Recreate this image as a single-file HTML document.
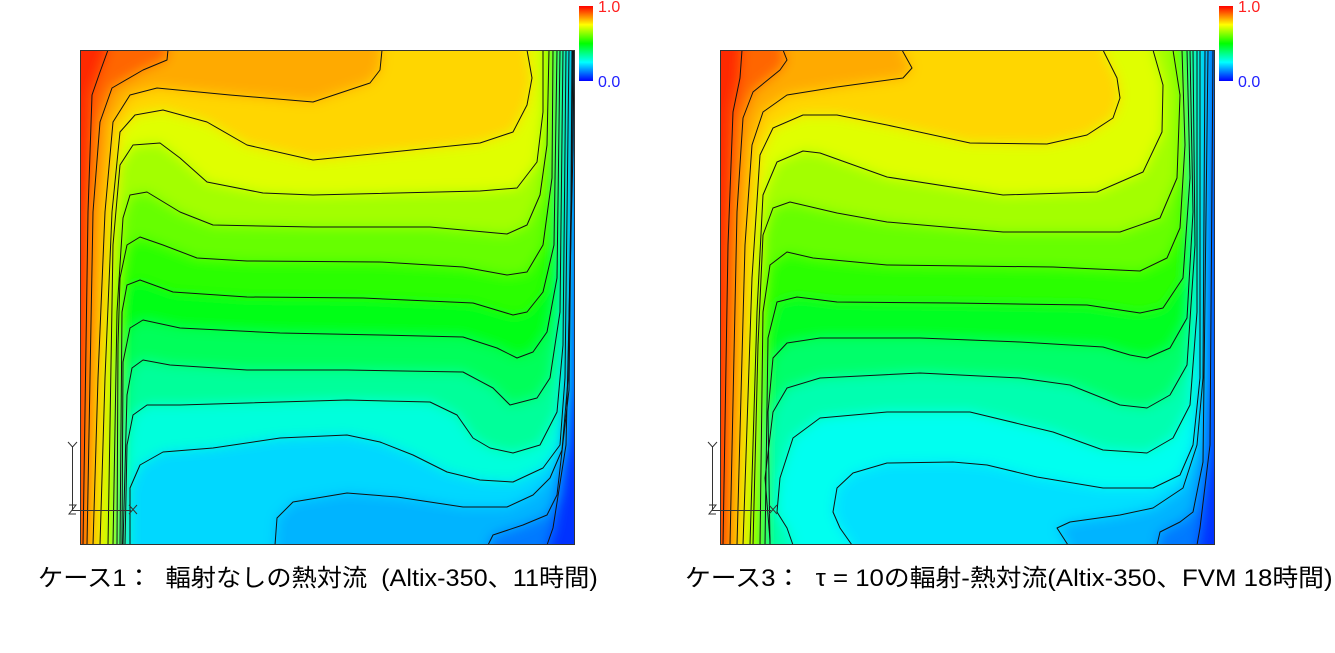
<!DOCTYPE html>
<html><head><meta charset="utf-8">
<style>
html,body{margin:0;padding:0;background:#fff;}
body{width:1335px;height:653px;position:relative;overflow:hidden;}
.plot{position:absolute;top:50px;}
.cap{position:absolute;top:564px;font-family:"Liberation Sans","Noto Sans CJK JP",sans-serif;font-size:24px;color:#000;white-space:nowrap;line-height:30px;transform-origin:0 0;}
.lab{position:absolute;font-family:"Liberation Sans",sans-serif;font-size:16px;line-height:16px;}
.cb{position:absolute;top:6px;width:14px;height:75px;background:linear-gradient(to bottom,#ff0000 0%,#ffff00 25%,#00ff00 50%,#00ffff 75%,#0000ff 100%);}
</style></head><body>

<svg class="plot" style="left:80px" width="496" height="496" viewBox="0 0 496 496">
<defs>
<clipPath id="ca"><rect x="0" y="0" width="495" height="495"/></clipPath>
<filter id="fa" x="-20%" y="-20%" width="140%" height="140%"><feGaussianBlur stdDeviation="6"/></filter>
<polygon id="a1" points="28,-30 28,0 20,22 12,45 8,162 3,495 3,525 -30,525 -30,-30"/>
<polygon id="aA" points="88,-30 88,0 87,10 63,20 32,38 20,72 13,162 7,495 7,525 -30,525 -30,-30"/>
<polygon id="aB" points="302,-30 302,0 300,20 290,33 233,52 150,45 77,38 50,45 33,72 25,162 18,328 13,495 13,525 -30,525 -30,-30"/>
<polygon id="aC" points="447,-30 447,0 452,28 447,55 433,82 400,93 233,110 167,95 127,72 83,60 55,65 40,82 32,162 25,328 20,495 20,525 -30,525 -30,-30"/>
<polygon id="aD" points="463,-30 463,0 463,62 457,112 437,138 400,141 233,145 183,143 127,132 100,108 80,93 53,95 40,115 33,195 28,495 28,525 -30,525 -30,-30"/>
<polygon id="aE" points="469,-30 469,0 467,95 460,145 447,175 427,184 350,177 233,177 133,175 100,162 67,142 50,145 43,168 37,262 33,495 33,525 -30,525 -30,-30"/>
<polygon id="aF" points="473,-30 473,0 472,128 463,195 447,222 427,225 383,217 300,212 167,211 117,208 83,195 60,187 47,195 40,228 38,295 37,495 37,525 -30,525 -30,-30"/>
<polygon id="aG" points="477,-30 477,0 474,195 463,242 447,262 433,265 393,253 283,248 167,247 93,242 60,230 47,235 42,262 40,495 40,525 -30,525 -30,-30"/>
<polygon id="aH" points="480,-30 480,0 477,228 467,282 453,302 437,308 417,298 383,287 300,285 200,283 100,278 63,270 50,278 43,312 42,495 42,525 -30,525 -30,-30"/>
<polygon id="aI" points="483,-30 483,0 480,262 470,328 457,348 430,355 413,338 383,322 267,320 167,320 90,315 63,310 52,318 47,345 43,495 43,525 -30,525 -30,-30"/>
<polygon id="aJ" points="486,-30 486,0 483,295 477,362 460,395 433,403 410,398 393,388 377,365 350,352 267,350 167,353 100,355 67,355 53,365 47,395 45,495 45,525 -30,525 -30,-30"/>
<polygon id="aK" points="489,-30 489,0 485,328 480,395 463,418 433,432 400,430 367,422 333,405 300,392 267,385 200,388 133,398 83,402 60,415 50,438 50,495 50,525 -30,525 -30,-30"/>
<polygon id="aL" points="195,525 195,495 197,468 213,452 267,443 317,447 383,457 427,457 453,445 470,428 482,400 488,330 491,150 492,0 492,-30 -30,-30 -30,525"/>
<polygon id="aM" points="408,525 408,495 413,485 443,475 467,465 477,445 489,340 493,0 493,-30 -30,-30 -30,525"/>
<polygon id="aN" points="467,525 467,495 473,478 486,395 493,100 494,0 494,-30 -30,-30 -30,525"/>
</defs>
<g clip-path="url(#ca)">
<g filter="url(#fa)">
<rect x="-40" y="-40" width="580" height="580" fill="#0033ff"/>
<use href="#aN" fill="#007aff"/>
<use href="#aM" fill="#00b4ff"/>
<use href="#aL" fill="#00d8ff"/>
<use href="#aK" fill="#00ffdc"/>
<use href="#aJ" fill="#00ff9a"/>
<use href="#aI" fill="#00ff5a"/>
<use href="#aH" fill="#00ff18"/>
<use href="#aG" fill="#29ff00"/>
<use href="#aF" fill="#66ff00"/>
<use href="#aE" fill="#a3ff00"/>
<use href="#aD" fill="#e0ff00"/>
<use href="#aC" fill="#ffd600"/>
<use href="#aB" fill="#ffaa00"/>
<use href="#aA" fill="#ff6600"/>
<use href="#a1" fill="#ff2900"/>
</g>
<g fill="none" stroke="#111" stroke-width="1" stroke-linejoin="round">
<use href="#a1"/><use href="#aA"/><use href="#aB"/><use href="#aC"/><use href="#aD"/><use href="#aE"/><use href="#aF"/><use href="#aG"/><use href="#aH"/><use href="#aI"/><use href="#aJ"/><use href="#aK"/><use href="#aL"/><use href="#aM"/><use href="#aN"/>
</g>
</g>
<rect x="0.5" y="0.5" width="494" height="494" fill="none" stroke="#333" stroke-width="1"/>
</svg>

<svg class="plot" style="left:720px" width="496" height="496" viewBox="0 0 496 496">
<defs>
<clipPath id="cb2"><rect x="0" y="0" width="495" height="495"/></clipPath>
<filter id="fb" x="-20%" y="-20%" width="140%" height="140%"><feGaussianBlur stdDeviation="6"/></filter>
<polygon id="b1" points="22,-30 22,0 20,28 13,62 8,195 3,495 3,525 -30,525 -30,-30"/>
<polygon id="bA" points="63,-30 63,0 67,10 60,20 33,42 23,68 17,162 10,495 10,525 -30,525 -30,-30"/>
<polygon id="bB" points="182,-30 182,0 192,18 183,28 117,37 67,45 43,62 32,95 25,195 17,495 17,525 -30,525 -30,-30"/>
<polygon id="bC" points="383,-30 383,0 397,28 400,48 393,68 367,85 327,94 250,93 167,75 117,65 83,65 53,78 40,105 32,228 23,495 23,525 -30,525 -30,-30"/>
<polygon id="bD" points="433,-30 433,0 443,35 442,82 423,122 377,142 283,145 167,127 100,103 83,101 57,112 43,145 37,262 30,495 30,525 -30,525 -30,-30"/>
<polygon id="bE" points="453,-30 453,0 460,45 457,128 440,168 400,182 283,182 167,172 117,163 70,152 53,158 43,185 38,295 33,495 33,525 -30,525 -30,-30"/>
<polygon id="bF" points="462,-30 462,0 465,95 460,178 447,208 420,221 333,217 167,215 93,208 67,202 50,215 43,262 40,495 40,525 -30,525 -30,-30"/>
<polygon id="bG" points="467,-30 467,0 470,128 463,228 443,258 420,263 367,255 233,253 117,252 77,247 57,252 48,288 45,495 45,525 -30,525 -30,-30"/>
<polygon id="bH" points="470,-30 470,0 473,162 467,268 450,298 427,308 410,305 383,297 300,292 200,288 100,288 67,293 53,308 48,362 50,495 50,525 -30,525 -30,-30"/>
<polygon id="bI" points="473,-30 473,0 475,195 467,315 450,345 427,358 400,355 350,335 300,328 200,323 100,328 67,338 53,362 45,428 50,490 50,525 -30,525 -30,-30"/>
<polygon id="bJ" points="477,-30 477,0 477,262 470,355 453,388 427,403 383,400 333,382 250,362 167,362 100,368 73,388 60,428 57,462 67,478 73,495 73,525 -30,525 -30,-30"/>
<polygon id="bK" points="480,-30 480,0 480,328 473,395 460,425 433,438 383,438 317,427 267,415 233,412 167,413 133,423 117,438 113,462 120,478 132,495 132,525 -30,525 -30,-30"/>
<polygon id="bL" points="348,525 348,495 337,478 350,472 400,465 433,458 463,438 477,395 483,328 485,0 485,-30 -30,-30 -30,525"/>
<polygon id="bM" points="437,525 437,495 440,482 460,472 473,462 483,412 488,0 488,-30 -30,-30 -30,525"/>
<polygon id="bN" points="477,525 477,495 480,478 490,395 493,0 493,-30 -30,-30 -30,525"/>
</defs>
<g clip-path="url(#cb2)">
<g filter="url(#fb)">
<rect x="-40" y="-40" width="580" height="580" fill="#0033ff"/>
<use href="#bN" fill="#007aff"/>
<use href="#bM" fill="#00b4ff"/>
<use href="#bL" fill="#00e0ff"/>
<use href="#bK" fill="#00fff0"/>
<use href="#bJ" fill="#00ffb0"/>
<use href="#bI" fill="#00ff6a"/>
<use href="#bH" fill="#00ff20"/>
<use href="#bG" fill="#29ff00"/>
<use href="#bF" fill="#66ff00"/>
<use href="#bE" fill="#a3ff00"/>
<use href="#bD" fill="#e0ff00"/>
<use href="#bC" fill="#ffd600"/>
<use href="#bB" fill="#ffaa00"/>
<use href="#bA" fill="#ff6600"/>
<use href="#b1" fill="#ff2900"/>
</g>
<g fill="none" stroke="#111" stroke-width="1" stroke-linejoin="round">
<use href="#b1"/><use href="#bA"/><use href="#bB"/><use href="#bC"/><use href="#bD"/><use href="#bE"/><use href="#bF"/><use href="#bG"/><use href="#bH"/><use href="#bI"/><use href="#bJ"/><use href="#bK"/><use href="#bL"/><use href="#bM"/><use href="#bN"/>
</g>
</g>
<rect x="0.5" y="0.5" width="494" height="494" fill="none" stroke="#333" stroke-width="1"/>
</svg>

<svg style="position:absolute;left:0;top:0" width="1335" height="653">
<g stroke="#333" stroke-width="1" fill="none">
<path d="M72.5 446 V510.5 H131"/>
<path d="M68 442 L72.5 447 L77 442"/>
<path d="M69 505 H76 L69 514 H76"/>
<path d="M129 505 L137 514 M137 505 L129 514"/>
<path d="M712.5 446 V510.5 H771"/>
<path d="M708 442 L712.5 447 L717 442"/>
<path d="M709 505 H716 L709 514 H716"/>
<path d="M769 505 L777 514 M777 505 L769 514"/>
</g>
</svg>

<div class="cb" style="left:579px"></div>
<div class="lab" style="left:598px;top:0px;color:#ff2020">1.0</div>
<div class="lab" style="left:598px;top:75px;color:#2020ff">0.0</div>
<div class="cb" style="left:1219px"></div>
<div class="lab" style="left:1238px;top:0px;color:#ff2020">1.0</div>
<div class="lab" style="left:1238px;top:75px;color:#2020ff">0.0</div>

<div class="cap" style="left:38px;transform:scaleX(1.05)">ケース1：&nbsp; 輻射なしの熱対流&nbsp; (Altix-350、11時間)</div>
<div class="cap" style="left:685px;transform:scaleX(1.075)">ケース3：&nbsp; τ = 10の輻射-熱対流(Altix-350、FVM 18時間)</div>
</body></html>
